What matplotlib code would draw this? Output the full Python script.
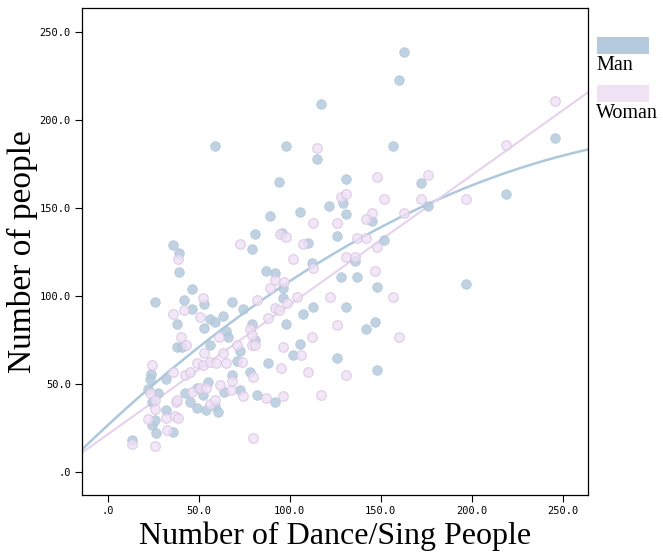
import numpy as np
import matplotlib
matplotlib.use("Agg")
import matplotlib.pyplot as plt
from matplotlib.patches import Rectangle

# Number of dance/sing participants (x) vs. number of people (y), by sex
man_x = [162.8, 160, 117, 58.9, 97.9, 115, 94, 131, 129, 131, 121.6, 105.6, 89, 80.9,
         95.7, 126, 157, 172, 145, 176, 219, 246, 197, 110, 152, 136, 112, 128, 137,
         148, 113, 131, 107, 142, 147, 105.6, 126, 148, 79, 87, 92, 96, 96, 74, 79,
         98, 81, 72.6, 102, 88, 78, 72.6, 82, 92, 35.8, 39, 39, 46, 26, 42, 53, 46,
         56, 59, 63, 68, 38, 53, 65, 66, 38, 40.7, 56, 23.6, 23, 32, 71, 68, 22,
         27.5, 24, 32, 42.4, 45, 49, 55, 52, 49, 54, 59, 60.5, 64, 24, 26, 26.4,
         36, 13]
man_y = [238.6, 222.7, 209, 185.2, 185.2, 177.8, 165, 166.5, 153, 146.6, 151, 147.7,
         145.5, 135, 136, 134, 185, 164, 142.6, 151, 158, 190, 107, 130, 132, 120,
         119, 111, 111, 105, 94, 94, 90, 81, 85, 73, 65, 58, 126.7, 114, 113, 104.5,
         99, 92.6, 84, 84, 75, 69, 66.5, 62, 57, 46.6, 44, 40, 129, 124.4, 113.6,
         104, 96.6, 97.7, 95.5, 92.6, 87, 85, 88.6, 96.6, 84, 82, 80, 77, 71, 71,
         72, 55.7, 53, 53, 63, 55, 47, 45, 40, 35, 45, 40, 48, 51, 44, 36.4, 35,
         37.5, 34, 45.5, 27, 29.5, 22, 22.7, 18]

woman_x = [115, 128, 131, 112.8, 126, 94.6, 98, 148, 176, 172, 152, 145, 142, 163,
           197, 219, 246, 107, 137, 142, 148, 131, 136, 113, 147, 122, 157, 126, 112,
           160, 106, 110, 131, 117, 72.6, 102, 92, 97, 89, 82, 98.5, 104, 92, 94, 88,
           78, 79, 79, 81, 96, 73.7, 95, 80, 74, 87, 96, 80, 38.5, 52, 42, 36, 50.6,
           61, 40, 43, 53, 71, 24, 36, 42.4, 45, 49, 52, 56, 59.4, 65, 63, 68, 23,
           26, 26, 37.4, 38, 32, 37, 38.5, 46, 50.6, 54, 56, 59, 61.6, 67.6, 22,
           32.5, 26, 13]
woman_y = [184, 156, 158, 141.5, 141.5, 135, 133.5, 167.6, 169, 155, 155, 147, 144,
           147, 155, 186, 211, 129.5, 133, 133, 128, 122, 122, 116, 114, 99.6, 99.6,
           83.5, 77, 77, 66.5, 57, 55, 44, 129.5, 121, 109, 108, 104.5, 98, 96, 99.6,
           93, 92, 87.5, 81, 78, 72, 72, 71, 62.5, 59, 54, 43, 42, 43, 19.3, 121,
           99, 92, 90, 88, 77, 77, 72, 67.6, 72, 61, 57, 55, 57, 62, 61, 62.5, 62,
           62, 67.6, 52, 45, 41, 36, 40, 41, 31, 32, 31, 45.5, 47.7, 48, 38.6, 41,
           49.4, 46.6, 30, 24, 15, 16]

x_ticks = [0, 50, 100, 150, 200, 250]
y_ticks = [0, 50, 100, 150, 200, 250]
tick_labels = [".0", "50.0", "100.0", "150.0", "200.0", "250.0"]
series_names = ["Man", "Woman"]

man_face, man_edge = "#b5cbdd", "#abc2d7"
woman_face, woman_edge = "#eee2f4", "#d9c2e3"
man_line, woman_line = "#abc8dd", "#e6d2ee"

fig = plt.figure(figsize=(6.63, 5.53), dpi=100)
ax = fig.add_axes([82 / 663, 1 - 495 / 553, (588 - 82) / 663, (495 - 8) / 553])

ax.scatter(man_x, man_y, s=48, color=man_face, edgecolors=man_edge, linewidths=0.5,
           alpha=0.85, zorder=3)
ax.scatter(woman_x, woman_y, s=48, color=woman_face, edgecolors=woman_edge,
           linewidths=0.8, alpha=0.8, zorder=3)

xlim = (-14.3, 264)
ylim = (-13, 263.6)
xs = np.linspace(xlim[0], xlim[1], 300)

# quadratic fit for men, linear fit for women
man_fit = np.polyfit(man_x, man_y, 2)
woman_fit = np.polyfit(woman_x, woman_y, 1)
ax.plot(xs, np.polyval(man_fit, xs), color=man_line, lw=1.8, zorder=2)
ax.plot(xs, np.polyval(woman_fit, xs), color=woman_line, lw=1.5, zorder=2)

ax.set_xlim(*xlim)
ax.set_ylim(*ylim)
ax.set_xticks(x_ticks)
ax.set_yticks(y_ticks)
tick_font = dict(family="DejaVu Sans Mono", size=7.5)
ax.set_xticklabels(tick_labels, **tick_font)
ax.set_yticklabels(tick_labels, **tick_font)
ax.tick_params(direction="out", length=5, width=0.8, color="black", pad=3)
for sp in ax.spines.values():
    sp.set_linewidth(0.9)

ax.set_xlabel("Number of Dance/Sing People", family="Liberation Serif", size=23,
              labelpad=4)
ax.set_ylabel("Number of people", family="Liberation Serif", size=24)
ax.yaxis.set_label_coords((38 - 82) / 506, 0.5)

# legend outside the plot area: colour swatch above each label
legend_rows = [(37, 66), (85, 113)]
for (top, text_y), name, col in zip(legend_rows, series_names, [man_face, woman_face]):
    fig.patches.append(Rectangle((597 / 663, 1 - (top + 17) / 553), 52 / 663, 17 / 553,
                                 transform=fig.transFigure, facecolor=col,
                                 edgecolor="none"))
    fig.text(596 / 663, 1 - text_y / 553, name, family="Liberation Serif",
             size=14.5, va="center", ha="left")

fig.savefig("out.png", dpi=100)
